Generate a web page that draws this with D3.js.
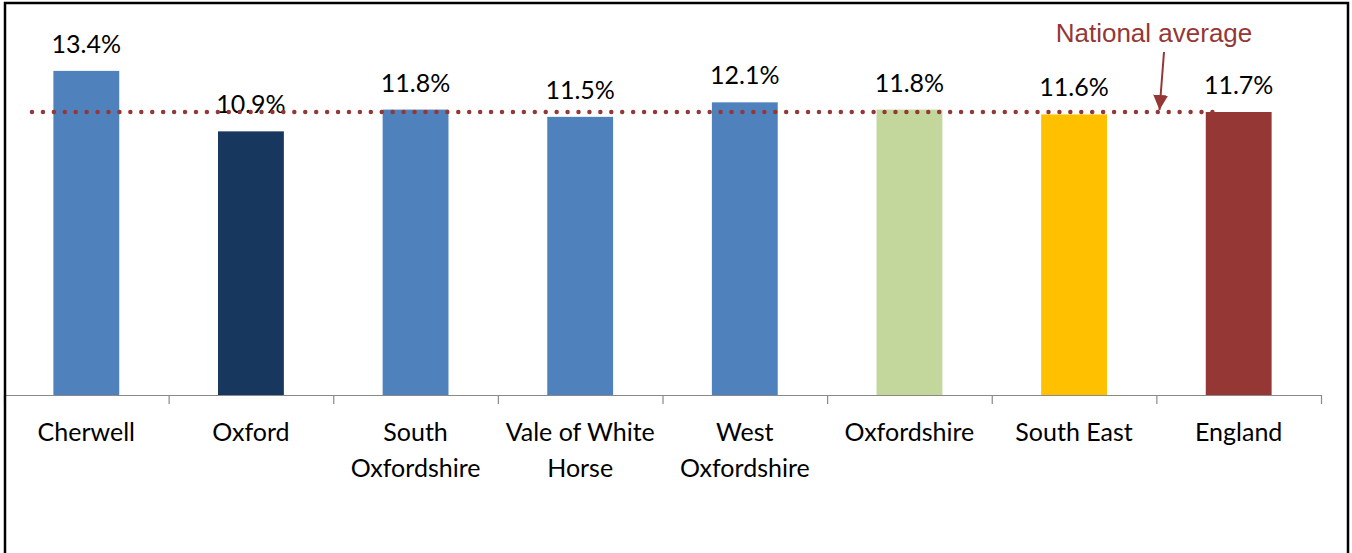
<!DOCTYPE html>
<html>
<head>
<meta charset="utf-8">
<script src="https://cdn.jsdelivr.net/npm/d3@7"></script>
<style>
  body { margin: 0; background: #fff; }
  svg { display: block; }
  text { font-family: Lato, "Open Sans", sans-serif; }
</style>
</head>
<body>
<svg></svg>
<script>
// Chart data
const categories = ["Cherwell", "Oxford", "South Oxfordshire", "Vale of White Horse",
                    "West Oxfordshire", "Oxfordshire", "South East", "England"]
const values = [13.4, 10.9, 11.8, 11.5, 12.1, 11.8, 11.6, 11.7]
const tickLabels = [["Cherwell"], ["Oxford"], ["South", "Oxfordshire"], ["Vale of White", "Horse"],
                    ["West", "Oxfordshire"], ["Oxfordshire"], ["South East"], ["England"]]
const barColors = ["#4F81BD", "#17375E", "#4F81BD", "#4F81BD", "#4F81BD", "#C3D69B", "#FFC000", "#953735"]
const nationalAverage = 11.7
const averageLabel = "National average"

const width = 1352
const height = 553

const svg = d3.select('svg')
                .attr('width', width)
                .attr('height', height)

// Scales
let xScale = d3.scaleBand()
                .domain(categories)
                .range([4, 1321])
                .paddingInner(0.6)
                .paddingOuter(0.3)

let yScale = d3.scaleLinear()
                .domain([0, 16])
                .range([395, 8])

let step = xScale.step()
// left edge of each category slot (where the axis tick sits)
let bandStart = d => xScale(d) - (step - xScale.bandwidth()) / 2

// Bars
svg.selectAll('rect.bar')
    .data(categories)
    .enter()
    .append('rect')
    .attr('class', 'bar')
    .attr('x', d => xScale(d))
    .attr('width', xScale.bandwidth())
    .attr('y', (d, i) => yScale(values[i]))
    .attr('height', (d, i) => yScale(0) - yScale(values[i]))
    .attr('fill', (d, i) => barColors[i])

// Value labels
svg.selectAll('text.value')
    .data(categories)
    .enter()
    .append('text')
    .attr('class', 'value')
    .attr('x', d => xScale(d) + xScale.bandwidth() / 2)
    .attr('y', (d, i) => yScale(values[i]) - 18)
    .attr('text-anchor', 'middle')
    .attr('font-size', 25)
    .attr('fill', '#000')
    .text((d, i) => d3.format('.1f')(values[i]) + '%')

// X axis (ticks between categories)
let axisG = svg.append('g')
svg.append('line')
    .attr('x1', 4).attr('x2', 1321)
    .attr('y1', yScale(0) + 0.5).attr('y2', yScale(0) + 0.5)
    .attr('stroke', '#898989')
    .attr('stroke-width', 1.2)

let tickPos = categories.map(bandStart)
tickPos.push(1321)
axisG.selectAll('line')
    .data(tickPos)
    .enter()
    .append('line')
    .attr('x1', d => d + 0.5).attr('x2', d => d + 0.5)
    .attr('y1', yScale(0)).attr('y2', yScale(0) + 9)
    .attr('stroke', '#898989')
    .attr('stroke-width', 1.2)

// Category labels
let labels = svg.selectAll('text.cat')
    .data(categories)
    .enter()
    .append('text')
    .attr('class', 'cat')
    .attr('text-anchor', 'middle')
    .attr('font-size', 25)
    .attr('fill', '#000')

labels.each(function (d, i) {
    let t = d3.select(this)
    tickLabels[i].forEach((line, j) => {
        t.append('tspan')
            .attr('x', xScale(d) + xScale.bandwidth() / 2)
            .attr('y', 441 + j * 35.5)
            .text(line)
    })
})

// National average dotted line
svg.append('line')
    .attr('x1', 32).attr('x2', 1213)
    .attr('y1', yScale(nationalAverage)).attr('y2', yScale(nationalAverage))
    .attr('stroke', '#953735')
    .attr('stroke-width', 4.5)
    .attr('stroke-linecap', 'round')
    .attr('stroke-dasharray', '0,10.93')

// Annotation text and arrow
svg.append('defs').append('marker')
    .attr('id', 'arrow')
    .attr('viewBox', '0 0 10 10')
    .attr('refX', 10).attr('refY', 5)
    .attr('markerWidth', 7.5).attr('markerHeight', 7.5)
    .attr('markerUnits', 'strokeWidth')
    .attr('orient', 'auto')
    .append('path')
    .attr('d', 'M0,0 L10,5 L0,10 Z')
    .attr('fill', '#953735')

svg.append('text')
    .attr('x', 1154)
    .attr('y', 41.5)
    .attr('text-anchor', 'middle')
    .style('font-family', '"Liberation Sans", Arial, sans-serif')
    .attr('font-size', 26)
    .attr('fill', '#953735')
    .text(averageLabel)

svg.append('line')
    .attr('x1', 1164).attr('y1', 52)
    .attr('x2', 1159.5).attr('y2', yScale(nationalAverage) - 2)
    .attr('stroke', '#953735')
    .attr('stroke-width', 2)
    .attr('marker-end', 'url(#arrow)')

// Outer frame
svg.append('path')
    .attr('d', 'M5,' + (height + 5) + ' L5,3 L1348,3 L1348,' + (height + 5))
    .attr('fill', 'none')
    .attr('stroke', '#000')
    .attr('stroke-width', 2.5)
</script>
</body>
</html>
